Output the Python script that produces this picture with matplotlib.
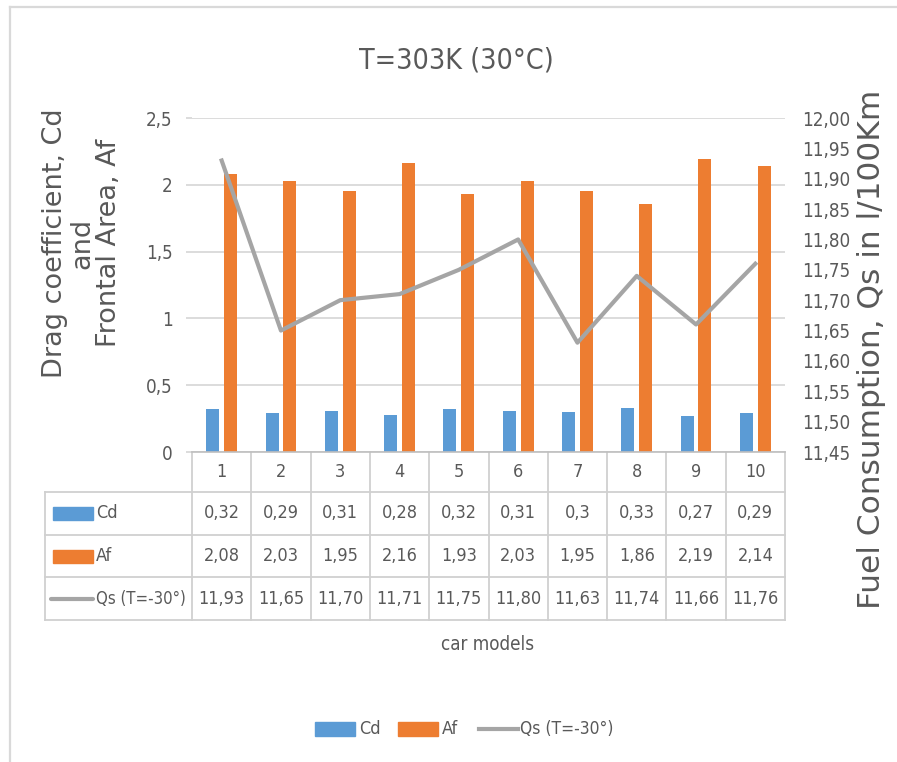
import matplotlib
matplotlib.use("Agg")
import matplotlib.pyplot as plt
import matplotlib.transforms as mtrans
from matplotlib.patches import Rectangle
from matplotlib.lines import Line2D

# ---------------- data ----------------
models = ["1", "2", "3", "4", "5", "6", "7", "8", "9", "10"]
cd = [0.32, 0.29, 0.31, 0.28, 0.32, 0.31, 0.30, 0.33, 0.27, 0.29]
af = [2.08, 2.03, 1.95, 2.16, 1.93, 2.03, 1.95, 1.86, 2.19, 2.14]
qs = [11.93, 11.65, 11.70, 11.71, 11.75, 11.80, 11.63, 11.74, 11.66, 11.76]
cd_text = ["0,32", "0,29", "0,31", "0,28", "0,32", "0,31", "0,3", "0,33", "0,27", "0,29"]
af_text = ["2,08", "2,03", "1,95", "2,16", "1,93", "2,03", "1,95", "1,86", "2,19", "2,14"]
qs_text = ["11,93", "11,65", "11,70", "11,71", "11,75", "11,80", "11,63", "11,74", "11,66", "11,76"]
left_ticks = [0, 0.5, 1, 1.5, 2, 2.5]
left_tick_labels = ["0", "0,5", "1", "1,5", "2", "2,5"]
right_ticks = [11.45, 11.50, 11.55, 11.60, 11.65, 11.70, 11.75, 11.80, 11.85, 11.90, 11.95, 12.00]
right_tick_labels = ["11,45", "11,50", "11,55", "11,60", "11,65", "11,70", "11,75",
                     "11,80", "11,85", "11,90", "11,95", "12,00"]
series_names = ["Cd", "Af", "Qs (T=-30°)"]
title = "T=303K (30°C)"
xlabel = "car models"
ylabel_left = "Drag coefficient, Cd\nand\nFrontal Area, Af"
ylabel_right = "Fuel Consumption, Qs in l/100Km"

# ---------------- style ----------------
BLUE = "#5B9BD5"
ORANGE = "#ED7D31"
GREY = "#A5A5A5"
TXT = "#595959"
GRID = "#D9D9D9"
TBL = "#D0D0D0"
NFAM = ["DejaVu Sans"]
NKW = dict(family=NFAM, fontstretch="condensed", color=TXT)

W, H = 897, 762
fig = plt.figure(figsize=(W / 100, H / 100), dpi=100)
X0, X1, Y0, Y1 = 192, 785, 118, 452
ax = fig.add_axes([X0 / W, 1 - Y1 / H, (X1 - X0) / W, (Y1 - Y0) / H])


def fx(px):
    return (px - X0) / (X1 - X0)


def fy(py):
    return (Y1 - py) / (Y1 - Y0)


n = len(models)
xs = list(range(n))
bw = 0.22
ax.bar([i - 0.15 for i in xs], cd, bw, color=BLUE, zorder=2)
ax.bar([i + 0.15 for i in xs], af, bw, color=ORANGE, zorder=2)
ax.set_xlim(-0.5, n - 0.5)
ax.set_ylim(0, 2.5)
ax.set_yticks(left_ticks)
ax.set_yticklabels(left_tick_labels, fontsize=13.5, **NKW)
ax.yaxis.grid(True, color=GRID, lw=1.3)
ax.set_axisbelow(True)
ax.set_xticks([])
for s in ["top", "right", "left"]:
    ax.spines[s].set_visible(False)
ax.spines["bottom"].set_color("#BFBFBF")
ax.spines["bottom"].set_linewidth(1.2)
ax.tick_params(axis="y", length=4, color=GRID, width=1.3, pad=10)

ax2 = ax.twinx()
ax2.plot(xs, qs, color=GREY, lw=3, zorder=3)
ax2.set_ylim(11.45, 12.0)
ax2.set_yticks(right_ticks)
ax2.set_yticklabels(right_tick_labels, fontsize=13.5, **NKW)
ax2.tick_params(axis="y", length=0, pad=12)
for s in ax2.spines.values():
    s.set_visible(False)

# ---------------- data table ----------------
bt = mtrans.blended_transform_factory(ax.transData, ax.transAxes)
rows_px = [452, 492, 535, 577, 620]
TL = 45
for yb in rows_px[1:]:
    ax.add_line(Line2D([fx(TL), 1], [fy(yb), fy(yb)], transform=ax.transAxes,
                       color=TBL, lw=1.3, clip_on=False))
ax.add_line(Line2D([fx(TL), fx(TL)], [fy(rows_px[1]), fy(rows_px[-1])],
                   transform=ax.transAxes, color=TBL, lw=1.3, clip_on=False))
for i in range(n + 1):
    ax.add_line(Line2D([i - 0.5, i - 0.5], [fy(rows_px[0]), fy(rows_px[-1])],
                       transform=bt, color=TBL, lw=1.3, clip_on=False))

centers = [(rows_px[k] + rows_px[k + 1]) / 2 for k in range(4)]
rows_text = [models, cd_text, af_text, qs_text]
for k in range(4):
    for i in range(n):
        ax.text(i, fy(centers[k]), rows_text[k][i], transform=bt, ha="center",
                va="center", fontsize=13, clip_on=False, **NKW)

# table legend keys
for k, col in [(1, BLUE), (2, ORANGE)]:
    yc = centers[k]
    ax.add_patch(Rectangle((fx(53), fy(yc + 6.5)), fx(93) - fx(53), fy(yc - 6.5) - fy(yc + 6.5),
                           transform=ax.transAxes, color=col, clip_on=False))
ax.add_line(Line2D([fx(51), fx(93)], [fy(centers[3]), fy(centers[3])], transform=ax.transAxes,
                   color=GREY, lw=3, clip_on=False, solid_capstyle="round"))
for k in range(3):
    ax.text(fx(96), fy(centers[k + 1]), series_names[k], transform=ax.transAxes,
            ha="left", va="center", fontsize=12 if k == 2 else 13, clip_on=False, **NKW)

# ---------------- titles / labels ----------------
fig.text(456 / W, 1 - 60 / H, title, ha="center", va="center", fontsize=20.5, **NKW)
fig.text(488 / W, 1 - 645 / H, xlabel, ha="center", va="center", fontsize=13.5, **NKW)
fig.text(82 / W, 1 - 243 / H, ylabel_left, ha="center", va="center", rotation=90,
         family="DejaVu Sans", fontsize=19.5, color=TXT, linespacing=1.05,
         multialignment="center")
fig.text(871 / W, 1 - 349 / H, ylabel_right, ha="center", va="center", rotation=90,
         family="DejaVu Sans", fontsize=22.5, color=TXT)

# ---------------- bottom legend ----------------
LY = 729
fig.add_artist(Rectangle((315 / W, 1 - (LY + 7) / H), 40 / W, 14 / H, color=BLUE,
                         transform=fig.transFigure))
fig.text(359 / W, 1 - LY / H, series_names[0], ha="left", va="center", fontsize=13, **NKW)
fig.add_artist(Rectangle((398 / W, 1 - (LY + 7) / H), 40 / W, 14 / H, color=ORANGE,
                         transform=fig.transFigure))
fig.text(442 / W, 1 - LY / H, series_names[1], ha="left", va="center", fontsize=13, **NKW)
fig.add_artist(Line2D([479 / W, 518 / W], [1 - LY / H, 1 - LY / H], color=GREY, lw=3,
                      transform=fig.transFigure))
fig.text(520 / W, 1 - LY / H, series_names[2], ha="left", va="center", fontsize=12.5, **NKW)

# ---------------- chart border ----------------
fig.add_artist(Line2D([10 / W, 10 / W], [0, 1 - 7 / H], color=GRID, lw=1.6,
                      transform=fig.transFigure))
fig.add_artist(Line2D([10 / W, 1], [1 - 7 / H, 1 - 7 / H], color=GRID, lw=1.6,
                      transform=fig.transFigure))

fig.savefig("out.png", dpi=100)
